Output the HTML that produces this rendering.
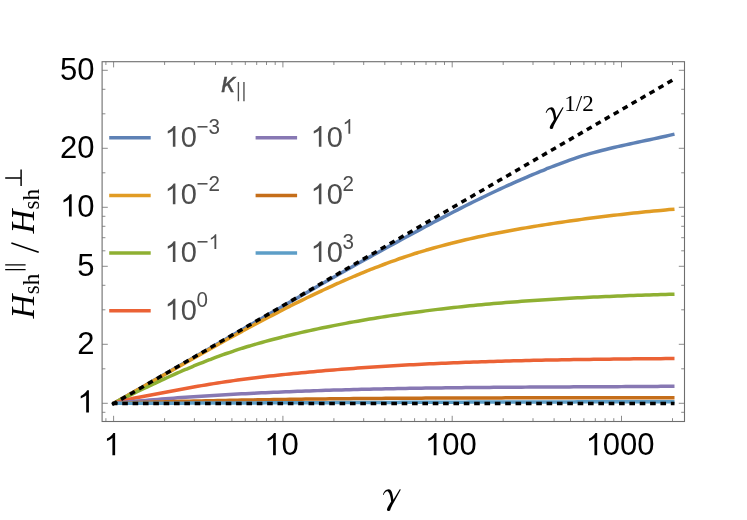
<!DOCTYPE html>
<html><head><meta charset="utf-8"><title>plot</title>
<style>
html,body{margin:0;padding:0;background:#fff;}
body{width:747px;height:520px;overflow:hidden;font-family:"Liberation Sans",sans-serif;}
svg{display:block;will-change:transform;-webkit-font-smoothing:antialiased}
text{font-family:"Liberation Sans",sans-serif}
.s{font-family:"Liberation Serif",serif}
</style></head><body>
<svg width="747" height="520" viewBox="0 0 747 520">
<defs>
<path id="one" d="M763 0H583V1147Q518 1085 412.5 1023T223 930V1104Q373 1174.5 485 1275T644 1470H763Z"/>
<path id="gam" d="M160 208C165 175 195 138 232 138C262 138 275 175 283 225L290 268L368 140L382 143L296 300C275 335 255 375 250 400C245 412 215 412 210 395C208 370 240 330 262 290C255 230 245 190 225 170C210 158 185 170 168 210Z"/>
</defs>
<rect width="747" height="520" fill="#fff"/>
<g fill="none" stroke-width="3.5" stroke-linejoin="round">
<path d="M113.6 403.30C114.9 402.55 118.9 400.29 121.6 398.78C124.3 397.27 126.9 395.76 129.6 394.25C132.3 392.74 134.9 391.22 137.6 389.70C140.3 388.18 142.9 386.67 145.6 385.15C148.3 383.63 150.9 382.10 153.6 380.58C156.3 379.06 158.9 377.53 161.6 376.00C164.3 374.47 166.9 372.95 169.6 371.42C172.3 369.89 174.9 368.35 177.6 366.82C180.3 365.29 182.9 363.75 185.6 362.22C188.3 360.69 190.9 359.16 193.6 357.62C196.3 356.08 198.9 354.55 201.6 353.01C204.3 351.47 206.9 349.94 209.6 348.40C212.3 346.86 214.9 345.33 217.6 343.79C220.3 342.25 222.9 340.71 225.6 339.17C228.3 337.63 230.9 336.10 233.6 334.56C236.3 333.02 238.9 331.48 241.6 329.94C244.3 328.40 246.9 326.87 249.6 325.33C252.3 323.79 254.9 322.25 257.6 320.72C260.3 319.19 262.9 317.65 265.6 316.12C268.3 314.59 270.9 313.05 273.6 311.52C276.3 309.99 278.9 308.46 281.6 306.93C284.3 305.40 286.9 303.87 289.6 302.34C292.3 300.81 294.9 299.28 297.6 297.76C300.3 296.24 302.9 294.72 305.6 293.20C308.3 291.68 310.9 290.16 313.6 288.64C316.3 287.12 318.9 285.60 321.6 284.09C324.3 282.58 326.9 281.07 329.6 279.56C332.3 278.05 334.9 276.54 337.6 275.04C340.3 273.54 342.9 272.04 345.6 270.54C348.3 269.04 350.9 267.54 353.6 266.05C356.3 264.56 358.9 263.07 361.6 261.58C364.3 260.09 366.9 258.60 369.6 257.12C372.3 255.64 374.9 254.16 377.6 252.69C380.3 251.22 382.9 249.74 385.6 248.27C388.3 246.80 390.9 245.34 393.6 243.88C396.3 242.42 398.9 240.96 401.6 239.51C404.3 238.06 406.9 236.60 409.6 235.16C412.3 233.72 414.9 232.27 417.6 230.84C420.3 229.41 422.9 227.98 425.6 226.56C428.3 225.14 430.9 223.72 433.6 222.31C436.3 220.90 438.9 219.50 441.6 218.10C444.3 216.70 446.9 215.32 449.6 213.94C452.3 212.56 454.9 211.20 457.6 209.84C460.3 208.48 462.9 207.12 465.6 205.78C468.3 204.44 470.9 203.11 473.6 201.79C476.3 200.47 478.9 199.16 481.6 197.86C484.3 196.56 486.9 195.27 489.6 194.00C492.3 192.73 494.9 191.47 497.6 190.22C500.3 188.97 502.9 187.73 505.6 186.51C508.3 185.29 510.9 184.07 513.6 182.88C516.3 181.69 518.9 180.51 521.6 179.35C524.3 178.19 526.9 177.03 529.6 175.90C532.3 174.77 534.9 173.64 537.6 172.54C540.3 171.44 542.9 170.35 545.6 169.28C548.3 168.21 550.9 167.15 553.6 166.11C556.3 165.07 558.9 164.05 561.6 163.05C564.3 162.06 566.9 161.08 569.6 160.14C572.3 159.20 574.9 158.30 577.6 157.43C580.3 156.56 582.9 155.73 585.6 154.93C588.3 154.13 590.9 153.38 593.6 152.64C596.3 151.90 598.9 151.20 601.6 150.51C604.3 149.82 606.9 149.17 609.6 148.52C612.3 147.88 614.9 147.25 617.6 146.64C620.3 146.03 622.9 145.43 625.6 144.84C628.3 144.25 630.9 143.68 633.6 143.11C636.3 142.54 638.9 141.97 641.6 141.40C644.3 140.83 646.9 140.26 649.6 139.69C652.3 139.12 654.9 138.55 657.6 137.96C660.3 137.38 662.8 136.82 665.6 136.18C668.4 135.54 673.0 134.45 674.5 134.10" stroke="#5E81B5"/>
<path d="M113.6 403.30C114.9 402.56 118.9 400.33 121.6 398.84C124.3 397.35 126.9 395.86 129.6 394.36C132.3 392.86 134.9 391.36 137.6 389.86C140.3 388.36 142.9 386.86 145.6 385.35C148.3 383.84 150.9 382.33 153.6 380.82C156.3 379.31 158.9 377.80 161.6 376.29C164.3 374.78 166.9 373.27 169.6 371.76C172.3 370.25 174.9 368.74 177.6 367.23C180.3 365.72 182.9 364.21 185.6 362.71C188.3 361.20 190.9 359.70 193.6 358.20C196.3 356.70 198.9 355.20 201.6 353.71C204.3 352.21 206.9 350.72 209.6 349.23C212.3 347.74 214.9 346.25 217.6 344.77C220.3 343.29 222.9 341.81 225.6 340.34C228.3 338.87 230.9 337.41 233.6 335.95C236.3 334.49 238.9 333.04 241.6 331.59C244.3 330.14 246.9 328.69 249.6 327.26C252.3 325.82 254.9 324.40 257.6 322.98C260.3 321.56 262.9 320.15 265.6 318.75C268.3 317.35 270.9 315.95 273.6 314.57C276.3 313.19 278.9 311.81 281.6 310.45C284.3 309.08 286.9 307.73 289.6 306.38C292.3 305.03 294.9 303.70 297.6 302.38C300.3 301.06 302.9 299.75 305.6 298.45C308.3 297.15 310.9 295.85 313.6 294.58C316.3 293.31 318.9 292.05 321.6 290.80C324.3 289.55 326.9 288.31 329.6 287.09C332.3 285.87 334.9 284.66 337.6 283.47C340.3 282.28 342.9 281.10 345.6 279.94C348.3 278.78 350.9 277.63 353.6 276.50C356.3 275.37 358.9 274.25 361.6 273.15C364.3 272.05 366.9 270.97 369.6 269.91C372.3 268.85 374.9 267.80 377.6 266.77C380.3 265.74 382.9 264.73 385.6 263.74C388.3 262.75 390.9 261.77 393.6 260.82C396.3 259.87 398.9 258.93 401.6 258.02C404.3 257.11 406.9 256.21 409.6 255.34C412.3 254.47 414.9 253.62 417.6 252.79C420.3 251.96 422.9 251.14 425.6 250.35C428.3 249.56 430.9 248.78 433.6 248.03C436.3 247.28 438.9 246.54 441.6 245.82C444.3 245.10 446.9 244.40 449.6 243.71C452.3 243.02 454.9 242.35 457.6 241.70C460.3 241.05 462.9 240.41 465.6 239.79C468.3 239.17 470.9 238.56 473.6 237.96C476.3 237.37 478.9 236.79 481.6 236.22C484.3 235.65 486.9 235.09 489.6 234.55C492.3 234.01 494.9 233.48 497.6 232.96C500.3 232.44 502.9 231.93 505.6 231.43C508.3 230.93 510.9 230.45 513.6 229.97C516.3 229.49 518.9 229.02 521.6 228.56C524.3 228.10 526.9 227.64 529.6 227.20C532.3 226.75 534.9 226.32 537.6 225.89C540.3 225.46 542.9 225.04 545.6 224.62C548.3 224.20 550.9 223.79 553.6 223.39C556.3 222.99 558.9 222.59 561.6 222.20C564.3 221.81 566.9 221.42 569.6 221.04C572.3 220.66 574.9 220.29 577.6 219.92C580.3 219.55 582.9 219.19 585.6 218.84C588.3 218.49 590.9 218.13 593.6 217.79C596.3 217.45 598.9 217.11 601.6 216.78C604.3 216.45 606.9 216.13 609.6 215.81C612.3 215.49 614.9 215.18 617.6 214.87C620.3 214.56 622.9 214.26 625.6 213.96C628.3 213.66 630.9 213.38 633.6 213.09C636.3 212.81 638.9 212.52 641.6 212.25C644.3 211.98 646.9 211.71 649.6 211.45C652.3 211.19 654.9 210.93 657.6 210.68C660.3 210.43 662.8 210.19 665.6 209.93C668.4 209.68 673.0 209.28 674.5 209.15" stroke="#E19C24"/>
<path d="M113.6 403.30C114.9 402.64 118.9 400.65 121.6 399.34C124.3 398.02 126.9 396.71 129.6 395.41C132.3 394.11 134.9 392.81 137.6 391.52C140.3 390.23 142.9 388.95 145.6 387.68C148.3 386.41 150.9 385.14 153.6 383.89C156.3 382.64 158.9 381.39 161.6 380.16C164.3 378.93 166.9 377.71 169.6 376.51C172.3 375.31 174.9 374.12 177.6 372.94C180.3 371.76 182.9 370.60 185.6 369.46C188.3 368.32 190.9 367.19 193.6 366.08C196.3 364.97 198.9 363.89 201.6 362.82C204.3 361.75 206.9 360.70 209.6 359.67C212.3 358.64 214.9 357.63 217.6 356.65C220.3 355.67 222.9 354.70 225.6 353.77C228.3 352.83 230.9 351.93 233.6 351.04C236.3 350.15 238.9 349.29 241.6 348.45C244.3 347.61 246.9 346.79 249.6 345.99C252.3 345.19 254.9 344.41 257.6 343.65C260.3 342.89 262.9 342.15 265.6 341.42C268.3 340.69 270.9 339.98 273.6 339.28C276.3 338.58 278.9 337.89 281.6 337.22C284.3 336.55 286.9 335.88 289.6 335.24C292.3 334.60 294.9 333.97 297.6 333.35C300.3 332.73 302.9 332.12 305.6 331.52C308.3 330.92 310.9 330.33 313.6 329.76C316.3 329.19 318.9 328.62 321.6 328.07C324.3 327.52 326.9 326.97 329.6 326.44C332.3 325.91 334.9 325.38 337.6 324.87C340.3 324.36 342.9 323.85 345.6 323.35C348.3 322.85 350.9 322.36 353.6 321.88C356.3 321.40 358.9 320.93 361.6 320.47C364.3 320.01 366.9 319.55 369.6 319.10C372.3 318.65 374.9 318.22 377.6 317.79C380.3 317.36 382.9 316.94 385.6 316.52C388.3 316.10 390.9 315.70 393.6 315.30C396.3 314.90 398.9 314.51 401.6 314.13C404.3 313.75 406.9 313.37 409.6 313.00C412.3 312.63 414.9 312.27 417.6 311.92C420.3 311.57 422.9 311.22 425.6 310.88C428.3 310.54 430.9 310.21 433.6 309.88C436.3 309.55 438.9 309.23 441.6 308.92C444.3 308.61 446.9 308.30 449.6 308.00C452.3 307.70 454.9 307.41 457.6 307.12C460.3 306.83 462.9 306.55 465.6 306.28C468.3 306.00 470.9 305.73 473.6 305.47C476.3 305.21 478.9 304.95 481.6 304.70C484.3 304.45 486.9 304.21 489.6 303.97C492.3 303.73 494.9 303.50 497.6 303.27C500.3 303.04 502.9 302.82 505.6 302.60C508.3 302.38 510.9 302.17 513.6 301.96C516.3 301.75 518.9 301.55 521.6 301.35C524.3 301.15 526.9 300.96 529.6 300.77C532.3 300.58 534.9 300.40 537.6 300.22C540.3 300.04 542.9 299.87 545.6 299.70C548.3 299.53 550.9 299.37 553.6 299.21C556.3 299.05 558.9 298.89 561.6 298.74C564.3 298.59 566.9 298.44 569.6 298.29C572.3 298.14 574.9 298.00 577.6 297.86C580.3 297.72 582.9 297.59 585.6 297.46C588.3 297.33 590.9 297.20 593.6 297.08C596.3 296.96 598.9 296.84 601.6 296.72C604.3 296.60 606.9 296.49 609.6 296.38C612.3 296.27 614.9 296.16 617.6 296.05C620.3 295.94 622.9 295.85 625.6 295.75C628.3 295.65 630.9 295.54 633.6 295.45C636.3 295.36 638.9 295.27 641.6 295.18C644.3 295.09 646.9 295.00 649.6 294.91C652.3 294.82 654.9 294.74 657.6 294.66C660.3 294.58 662.8 294.50 665.6 294.42C668.4 294.34 673.0 294.21 674.5 294.17" stroke="#8FB032"/>
<path d="M113.6 403.30C114.9 402.94 118.9 401.83 121.6 401.16C124.3 400.49 126.9 399.88 129.6 399.28C132.3 398.68 134.9 398.13 137.6 397.58C140.3 397.03 142.9 396.52 145.6 396.00C148.3 395.48 150.9 394.98 153.6 394.48C156.3 393.98 158.9 393.48 161.6 392.98C164.3 392.48 166.9 391.98 169.6 391.48C172.3 390.98 174.9 390.47 177.6 389.97C180.3 389.47 182.9 388.97 185.6 388.48C188.3 387.99 190.9 387.50 193.6 387.02C196.3 386.54 198.9 386.07 201.6 385.61C204.3 385.15 206.9 384.70 209.6 384.27C212.3 383.83 214.9 383.41 217.6 383.00C220.3 382.59 222.9 382.18 225.6 381.79C228.3 381.40 230.9 381.01 233.6 380.64C236.3 380.26 238.9 379.90 241.6 379.54C244.3 379.18 246.9 378.84 249.6 378.50C252.3 378.16 254.9 377.82 257.6 377.50C260.3 377.18 262.9 376.86 265.6 376.55C268.3 376.24 270.9 375.94 273.6 375.65C276.3 375.36 278.9 375.07 281.6 374.79C284.3 374.51 286.9 374.23 289.6 373.96C292.3 373.69 294.9 373.42 297.6 373.16C300.3 372.90 302.9 372.65 305.6 372.40C308.3 372.15 310.9 371.90 313.6 371.66C316.3 371.42 318.9 371.19 321.6 370.96C324.3 370.73 326.9 370.50 329.6 370.28C332.3 370.06 334.9 369.83 337.6 369.62C340.3 369.41 342.9 369.20 345.6 369.00C348.3 368.80 350.9 368.59 353.6 368.39C356.3 368.19 358.9 368.01 361.6 367.82C364.3 367.63 366.9 367.45 369.6 367.27C372.3 367.09 374.9 366.91 377.6 366.74C380.3 366.57 382.9 366.40 385.6 366.23C388.3 366.06 390.9 365.91 393.6 365.75C396.3 365.59 398.9 365.44 401.6 365.29C404.3 365.14 406.9 365.00 409.6 364.86C412.3 364.72 414.9 364.58 417.6 364.44C420.3 364.30 422.9 364.17 425.6 364.04C428.3 363.91 430.9 363.78 433.6 363.66C436.3 363.54 438.9 363.43 441.6 363.31C444.3 363.19 446.9 363.08 449.6 362.97C452.3 362.86 454.9 362.75 457.6 362.64C460.3 362.53 462.9 362.44 465.6 362.34C468.3 362.24 470.9 362.14 473.6 362.05C476.3 361.96 478.9 361.87 481.6 361.78C484.3 361.69 486.9 361.60 489.6 361.52C492.3 361.44 494.9 361.36 497.6 361.28C500.3 361.20 502.9 361.12 505.6 361.05C508.3 360.98 510.9 360.91 513.6 360.84C516.3 360.77 518.9 360.70 521.6 360.64C524.3 360.57 526.9 360.51 529.6 360.45C532.3 360.39 534.9 360.34 537.6 360.28C540.3 360.22 542.9 360.16 545.6 360.11C548.3 360.06 550.9 360.01 553.6 359.96C556.3 359.91 558.9 359.86 561.6 359.81C564.3 359.76 566.9 359.72 569.6 359.68C572.3 359.64 574.9 359.59 577.6 359.55C580.3 359.51 582.9 359.48 585.6 359.44C588.3 359.40 590.9 359.37 593.6 359.33C596.3 359.29 598.9 359.26 601.6 359.23C604.3 359.20 606.9 359.16 609.6 359.13C612.3 359.10 614.9 359.07 617.6 359.04C620.3 359.01 622.9 358.98 625.6 358.95C628.3 358.92 630.9 358.89 633.6 358.87C636.3 358.85 638.9 358.82 641.6 358.80C644.3 358.78 646.9 358.74 649.6 358.72C652.3 358.70 654.9 358.68 657.6 358.66C660.3 358.64 662.8 358.62 665.6 358.59C668.4 358.56 673.0 358.52 674.5 358.51" stroke="#EB6235"/>
<path d="M113.6 403.30C114.9 403.17 118.9 402.79 121.6 402.54C124.3 402.29 126.9 402.04 129.6 401.80C132.3 401.56 134.9 401.31 137.6 401.08C140.3 400.84 142.9 400.62 145.6 400.39C148.3 400.16 150.9 399.95 153.6 399.73C156.3 399.51 158.9 399.30 161.6 399.09C164.3 398.88 166.9 398.67 169.6 398.47C172.3 398.27 174.9 398.06 177.6 397.87C180.3 397.68 182.9 397.49 185.6 397.30C188.3 397.11 190.9 396.93 193.6 396.75C196.3 396.57 198.9 396.39 201.6 396.22C204.3 396.05 206.9 395.88 209.6 395.71C212.3 395.54 214.9 395.38 217.6 395.22C220.3 395.06 222.9 394.90 225.6 394.75C228.3 394.60 230.9 394.45 233.6 394.30C236.3 394.15 238.9 394.01 241.6 393.87C244.3 393.73 246.9 393.59 249.6 393.46C252.3 393.32 254.9 393.19 257.6 393.06C260.3 392.93 262.9 392.80 265.6 392.68C268.3 392.56 270.9 392.44 273.6 392.32C276.3 392.20 278.9 392.09 281.6 391.98C284.3 391.87 286.9 391.76 289.6 391.65C292.3 391.54 294.9 391.44 297.6 391.34C300.3 391.24 302.9 391.14 305.6 391.04C308.3 390.94 310.9 390.85 313.6 390.76C316.3 390.67 318.9 390.58 321.6 390.49C324.3 390.40 326.9 390.32 329.6 390.24C332.3 390.16 334.9 390.08 337.6 390.00C340.3 389.92 342.9 389.84 345.6 389.77C348.3 389.69 350.9 389.62 353.6 389.55C356.3 389.48 358.9 389.42 361.6 389.35C364.3 389.29 366.9 389.22 369.6 389.16C372.3 389.10 374.9 389.04 377.6 388.98C380.3 388.92 382.9 388.87 385.6 388.81C388.3 388.75 390.9 388.70 393.6 388.65C396.3 388.60 398.9 388.55 401.6 388.50C404.3 388.45 406.9 388.41 409.6 388.36C412.3 388.31 414.9 388.26 417.6 388.22C420.3 388.18 422.9 388.14 425.6 388.10C428.3 388.06 430.9 388.03 433.6 387.99C436.3 387.95 438.9 387.92 441.6 387.88C444.3 387.84 446.9 387.81 449.6 387.78C452.3 387.75 454.9 387.72 457.6 387.69C460.3 387.66 462.9 387.63 465.6 387.60C468.3 387.57 470.9 387.54 473.6 387.52C476.3 387.50 478.9 387.47 481.6 387.45C484.3 387.43 486.9 387.40 489.6 387.38C492.3 387.36 494.9 387.34 497.6 387.32C500.3 387.30 502.9 387.28 505.6 387.26C508.3 387.24 510.9 387.22 513.6 387.20C516.3 387.18 518.9 387.17 521.6 387.15C524.3 387.13 526.9 387.12 529.6 387.10C532.3 387.08 534.9 387.06 537.6 387.05C540.3 387.04 542.9 387.02 545.6 387.01C548.3 387.00 550.9 386.98 553.6 386.97C556.3 386.96 558.9 386.94 561.6 386.93C564.3 386.92 566.9 386.90 569.6 386.89C572.3 386.88 574.9 386.86 577.6 386.85C580.3 386.84 582.9 386.82 585.6 386.81C588.3 386.80 590.9 386.78 593.6 386.77C596.3 386.76 598.9 386.74 601.6 386.73C604.3 386.72 606.9 386.70 609.6 386.69C612.3 386.68 614.9 386.66 617.6 386.65C620.3 386.63 622.9 386.62 625.6 386.60C628.3 386.58 630.9 386.57 633.6 386.55C636.3 386.53 638.9 386.52 641.6 386.50C644.3 386.48 646.9 386.47 649.6 386.45C652.3 386.43 654.9 386.41 657.6 386.39C660.3 386.37 662.8 386.35 665.6 386.33C668.4 386.31 673.0 386.27 674.5 386.26" stroke="#8778B3"/>
<path d="M113.6 403.30C114.9 403.26 118.9 403.12 121.6 403.04C124.3 402.96 126.9 402.88 129.6 402.80C132.3 402.72 134.9 402.64 137.6 402.56C140.3 402.48 142.9 402.41 145.6 402.33C148.3 402.25 150.9 402.18 153.6 402.10C156.3 402.03 158.9 401.95 161.6 401.88C164.3 401.81 166.9 401.75 169.6 401.68C172.3 401.61 174.9 401.54 177.6 401.47C180.3 401.40 182.9 401.34 185.6 401.28C188.3 401.22 190.9 401.15 193.6 401.09C196.3 401.03 198.9 400.97 201.6 400.91C204.3 400.85 206.9 400.80 209.6 400.74C212.3 400.68 214.9 400.62 217.6 400.57C220.3 400.51 222.9 400.46 225.6 400.41C228.3 400.36 230.9 400.30 233.6 400.25C236.3 400.20 238.9 400.15 241.6 400.10C244.3 400.05 246.9 400.01 249.6 399.96C252.3 399.91 254.9 399.87 257.6 399.82C260.3 399.77 262.9 399.73 265.6 399.69C268.3 399.65 270.9 399.61 273.6 399.57C276.3 399.53 278.9 399.49 281.6 399.45C284.3 399.41 286.9 399.38 289.6 399.34C292.3 399.30 294.9 399.27 297.6 399.23C300.3 399.19 302.9 399.15 305.6 399.12C308.3 399.09 310.9 399.06 313.6 399.03C316.3 399.00 318.9 398.96 321.6 398.93C324.3 398.90 326.9 398.88 329.6 398.85C332.3 398.82 334.9 398.79 337.6 398.76C340.3 398.73 342.9 398.70 345.6 398.68C348.3 398.66 350.9 398.63 353.6 398.61C356.3 398.59 358.9 398.56 361.6 398.54C364.3 398.52 366.9 398.49 369.6 398.47C372.3 398.45 374.9 398.43 377.6 398.41C380.3 398.39 382.9 398.37 385.6 398.35C388.3 398.33 390.9 398.32 393.6 398.30C396.3 398.28 398.9 398.27 401.6 398.25C404.3 398.23 406.9 398.21 409.6 398.20C412.3 398.19 414.9 398.17 417.6 398.16C420.3 398.15 422.9 398.13 425.6 398.12C428.3 398.11 430.9 398.09 433.6 398.08C436.3 398.07 438.9 398.06 441.6 398.05C444.3 398.04 446.9 398.03 449.6 398.02C452.3 398.01 454.9 398.00 457.6 397.99C460.3 397.98 462.9 397.97 465.6 397.96C468.3 397.95 470.9 397.95 473.6 397.94C476.3 397.93 478.9 397.93 481.6 397.92C484.3 397.91 486.9 397.90 489.6 397.90C492.3 397.89 494.9 397.89 497.6 397.89C500.3 397.88 502.9 397.88 505.6 397.87C508.3 397.87 510.9 397.86 513.6 397.86C516.3 397.86 518.9 397.85 521.6 397.85C524.3 397.85 526.9 397.84 529.6 397.84C532.3 397.84 534.9 397.83 537.6 397.83C540.3 397.83 542.9 397.83 545.6 397.83C548.3 397.83 550.9 397.83 553.6 397.83C556.3 397.83 558.9 397.82 561.6 397.82C564.3 397.82 566.9 397.82 569.6 397.82C572.3 397.82 574.9 397.82 577.6 397.82C580.3 397.82 582.9 397.82 585.6 397.82C588.3 397.82 590.9 397.82 593.6 397.82C596.3 397.82 598.9 397.82 601.6 397.82C604.3 397.82 606.9 397.82 609.6 397.82C612.3 397.82 614.9 397.82 617.6 397.82C620.3 397.82 622.9 397.82 625.6 397.82C628.3 397.82 630.9 397.82 633.6 397.82C636.3 397.82 638.9 397.82 641.6 397.82C644.3 397.82 646.9 397.82 649.6 397.82C652.3 397.82 654.9 397.82 657.6 397.82C660.3 397.82 662.8 397.82 665.6 397.82C668.4 397.82 673.0 397.82 674.5 397.82" stroke="#C56E1A"/>
<path d="M113.6 403.30C114.9 403.30 118.9 403.30 121.6 403.29C124.3 403.29 126.9 403.28 129.6 403.27C132.3 403.26 134.9 403.25 137.6 403.25C140.3 403.25 142.9 403.25 145.6 403.24C148.3 403.24 150.9 403.23 153.6 403.22C156.3 403.21 158.9 403.21 161.6 403.20C164.3 403.19 166.9 403.19 169.6 403.18C172.3 403.17 174.9 403.17 177.6 403.16C180.3 403.15 182.9 403.14 185.6 403.13C188.3 403.12 190.9 403.12 193.6 403.11C196.3 403.10 198.9 403.10 201.6 403.09C204.3 403.08 206.9 403.07 209.6 403.06C212.3 403.05 214.9 403.05 217.6 403.04C220.3 403.03 222.9 403.02 225.6 403.01C228.3 403.00 230.9 402.99 233.6 402.98C236.3 402.97 238.9 402.97 241.6 402.96C244.3 402.95 246.9 402.94 249.6 402.93C252.3 402.92 254.9 402.91 257.6 402.90C260.3 402.89 262.9 402.88 265.6 402.87C268.3 402.86 270.9 402.85 273.6 402.84C276.3 402.83 278.9 402.82 281.6 402.81C284.3 402.80 286.9 402.79 289.6 402.78C292.3 402.77 294.9 402.76 297.6 402.75C300.3 402.74 302.9 402.73 305.6 402.72C308.3 402.71 310.9 402.70 313.6 402.69C316.3 402.68 318.9 402.67 321.6 402.66C324.3 402.65 326.9 402.64 329.6 402.63C332.3 402.62 334.9 402.61 337.6 402.60C340.3 402.59 342.9 402.58 345.6 402.57C348.3 402.56 350.9 402.55 353.6 402.54C356.3 402.53 358.9 402.52 361.6 402.51C364.3 402.50 366.9 402.49 369.6 402.48C372.3 402.47 374.9 402.46 377.6 402.45C380.3 402.44 382.9 402.43 385.6 402.42C388.3 402.41 390.9 402.40 393.6 402.39C396.3 402.38 398.9 402.37 401.6 402.36C404.3 402.35 406.9 402.34 409.6 402.33C412.3 402.32 414.9 402.31 417.6 402.30C420.3 402.29 422.9 402.28 425.6 402.27C428.3 402.26 430.9 402.25 433.6 402.24C436.3 402.23 438.9 402.22 441.6 402.21C444.3 402.20 446.9 402.20 449.6 402.19C452.3 402.18 454.9 402.17 457.6 402.16C460.3 402.15 462.9 402.14 465.6 402.13C468.3 402.12 470.9 402.12 473.6 402.11C476.3 402.10 478.9 402.09 481.6 402.08C484.3 402.07 486.9 402.07 489.6 402.06C492.3 402.05 494.9 402.05 497.6 402.04C500.3 402.03 502.9 402.03 505.6 402.02C508.3 402.01 510.9 402.00 513.6 401.99C516.3 401.98 518.9 401.98 521.6 401.97C524.3 401.97 526.9 401.96 529.6 401.96C532.3 401.95 534.9 401.95 537.6 401.94C540.3 401.93 542.9 401.93 545.6 401.92C548.3 401.92 550.9 401.92 553.6 401.91C556.3 401.91 558.9 401.89 561.6 401.89C564.3 401.88 566.9 401.88 569.6 401.88C572.3 401.88 574.9 401.88 577.6 401.87C580.3 401.87 582.9 401.85 585.6 401.85C588.3 401.85 590.9 401.85 593.6 401.85C596.3 401.85 598.9 401.84 601.6 401.84C604.3 401.84 606.9 401.83 609.6 401.83C612.3 401.83 614.9 401.83 617.6 401.83C620.3 401.83 622.9 401.82 625.6 401.82C628.3 401.82 630.9 401.82 633.6 401.82C636.3 401.82 638.9 401.82 641.6 401.82C644.3 401.82 646.9 401.82 649.6 401.82C652.3 401.82 654.9 401.82 657.6 401.82C660.3 401.82 662.8 401.82 665.6 401.82C668.4 401.82 673.0 401.82 674.5 401.82" stroke="#5D9EC7"/>
</g>
<g fill="none" stroke="#000" stroke-width="3.5" stroke-dasharray="5.6 4.75">
<path d="M112.10 404.57L674.5 79.02"/>
<path d="M111.9 403.40H674.5"/>
</g>
<g fill="none" stroke="#6e6e6e" stroke-width="1.1">
<rect x="102.1" y="61.7" width="582.4" height="359.8"/>
</g>
<path d="M102.1 403.3h5.7M684.5 403.3h-5.7M102.1 344.3h5.7M684.5 344.3h-5.7M102.1 266.3h5.7M684.5 266.3h-5.7M102.1 207.3h5.7M684.5 207.3h-5.7M102.1 148.3h5.7M684.5 148.3h-5.7M102.1 70.3h5.7M684.5 70.3h-5.7M102.1 412.3h3.3M684.5 412.3h-3.3M102.1 368.8h3.3M684.5 368.8h-3.3M102.1 309.8h3.3M684.5 309.8h-3.3M102.1 285.3h3.3M684.5 285.3h-3.3M102.1 250.8h3.3M684.5 250.8h-3.3M102.1 237.7h3.3M684.5 237.7h-3.3M102.1 226.3h3.3M684.5 226.3h-3.3M102.1 216.3h3.3M684.5 216.3h-3.3M102.1 172.8h3.3M684.5 172.8h-3.3M102.1 113.8h3.3M684.5 113.8h-3.3M102.1 89.3h3.3M684.5 89.3h-3.3M113.6 421.5v-5.7M113.6 61.7v5.7M282.9 421.5v-5.7M282.9 61.7v5.7M452.2 421.5v-5.7M452.2 61.7v5.7M621.5 421.5v-5.7M621.5 61.7v5.7M105.9 421.5v-3.3M105.9 61.7v3.3M164.6 421.5v-3.3M164.6 61.7v3.3M194.4 421.5v-3.3M194.4 61.7v3.3M215.5 421.5v-3.3M215.5 61.7v3.3M231.9 421.5v-3.3M231.9 61.7v3.3M245.3 421.5v-3.3M245.3 61.7v3.3M256.7 421.5v-3.3M256.7 61.7v3.3M266.5 421.5v-3.3M266.5 61.7v3.3M275.2 421.5v-3.3M275.2 61.7v3.3M333.9 421.5v-3.3M333.9 61.7v3.3M363.7 421.5v-3.3M363.7 61.7v3.3M384.8 421.5v-3.3M384.8 61.7v3.3M401.2 421.5v-3.3M401.2 61.7v3.3M414.6 421.5v-3.3M414.6 61.7v3.3M426.0 421.5v-3.3M426.0 61.7v3.3M435.8 421.5v-3.3M435.8 61.7v3.3M444.5 421.5v-3.3M444.5 61.7v3.3M503.2 421.5v-3.3M503.2 61.7v3.3M533.0 421.5v-3.3M533.0 61.7v3.3M554.1 421.5v-3.3M554.1 61.7v3.3M570.5 421.5v-3.3M570.5 61.7v3.3M583.9 421.5v-3.3M583.9 61.7v3.3M595.3 421.5v-3.3M595.3 61.7v3.3M605.1 421.5v-3.3M605.1 61.7v3.3M613.8 421.5v-3.3M613.8 61.7v3.3M672.5 421.5v-3.3M672.5 61.7v3.3" fill="none" stroke="#6e6e6e" stroke-width="0.8"/>
<use href="#one" transform="translate(77.36 412.60) scale(0.01514 -0.01514)" fill="#000"/>
<text transform="translate(77.36 353.60) scale(1 1.04)" font-size="31.0" fill="#000">2</text>
<text transform="translate(77.36 275.60) scale(1 1.04)" font-size="31.0" fill="#000">5</text>
<use href="#one" transform="translate(60.12 216.60) scale(0.01514 -0.01514)" fill="#000"/><text transform="translate(77.36 216.60) scale(1 1.04)" font-size="31.0" fill="#000">0</text>
<text transform="translate(60.12 157.60) scale(1 1.04)" font-size="31.0" fill="#000">20</text>
<text transform="translate(60.12 79.60) scale(1 1.04)" font-size="31.0" fill="#000">50</text>
<use href="#one" transform="translate(103.58 455.20) scale(0.01514 -0.01514)" fill="#000"/>
<use href="#one" transform="translate(264.26 455.20) scale(0.01514 -0.01514)" fill="#000"/><text transform="translate(281.50 455.20) scale(1 1.04)" font-size="31.0" fill="#000">0</text>
<use href="#one" transform="translate(424.94 455.20) scale(0.01514 -0.01514)" fill="#000"/><text transform="translate(442.18 455.20) scale(1 1.04)" font-size="31.0" fill="#000">00</text>
<use href="#one" transform="translate(585.62 455.20) scale(0.01514 -0.01514)" fill="#000"/><text transform="translate(602.86 455.20) scale(1 1.04)" font-size="31.0" fill="#000">000</text>
<use href="#gam" transform="translate(370 478) scale(0.08078)" fill="#000"/>
<use href="#gam" transform="translate(532.8 96.0) scale(0.08078)" fill="#000"/>
<text class="s" x="564.3" y="110.5" font-size="23" fill="#000">1/2</text>
<text class="s" transform="translate(34.2 318.5) rotate(-90)" font-size="33.2" font-style="italic" fill="#000">H</text>
<text class="s" transform="translate(39.4 294.3) rotate(-90)" font-size="23" fill="#000">sh</text>
<text class="s" transform="translate(34.2 233.6) rotate(-90)" font-size="33.2" font-style="italic" fill="#000">H</text>
<text class="s" transform="translate(39.4 209.4) rotate(-90)" font-size="23" fill="#000">sh</text>
<path d="M5.2 264.8H25.6M5.2 269.6H25.6" stroke="#000" stroke-width="1.35" fill="none"/>
<path d="M38.7 252.2L11.4 242.9" stroke="#000" stroke-width="1.55" fill="none"/>
<path d="M5.2 177.9H21.1M21.1 169.6V186.1" stroke="#000" stroke-width="1.45" fill="none"/>
<text x="221.3" y="92.3" font-size="27.6" font-style="italic" fill="#4d4d4d" stroke="#4d4d4d" stroke-width="0.35">κ</text>
<path d="M238.4 82v19.3M243.95 82v19.3" stroke="#4d4d4d" stroke-width="1.35" fill="none"/>
<path d="M109.2 137.8h41.5" stroke="#5E81B5" stroke-width="3.5" fill="none"/>
<use href="#one" transform="translate(164.60 146.70) scale(0.01416 -0.01416)" fill="#4d4d4d"/><text transform="translate(180.73 146.70) scale(1 1.04)" font-size="29" fill="#4d4d4d">0</text>
<text transform="translate(196.56 133.70) scale(1 1.04)" font-size="20.6" fill="#4d4d4d">−</text><text transform="translate(208.59 133.70) scale(1 1.04)" font-size="20.6" fill="#4d4d4d">3</text>
<path d="M109.2 195.45h41.5" stroke="#E19C24" stroke-width="3.5" fill="none"/>
<use href="#one" transform="translate(164.60 204.35) scale(0.01416 -0.01416)" fill="#4d4d4d"/><text transform="translate(180.73 204.35) scale(1 1.04)" font-size="29" fill="#4d4d4d">0</text>
<text transform="translate(196.56 191.35) scale(1 1.04)" font-size="20.6" fill="#4d4d4d">−</text><text transform="translate(208.59 191.35) scale(1 1.04)" font-size="20.6" fill="#4d4d4d">2</text>
<path d="M109.2 253.1h41.5" stroke="#8FB032" stroke-width="3.5" fill="none"/>
<use href="#one" transform="translate(164.60 262.00) scale(0.01416 -0.01416)" fill="#4d4d4d"/><text transform="translate(180.73 262.00) scale(1 1.04)" font-size="29" fill="#4d4d4d">0</text>
<text transform="translate(196.56 249.00) scale(1 1.04)" font-size="20.6" fill="#4d4d4d">−</text><use href="#one" transform="translate(208.59 249.00) scale(0.01006 -0.01006)" fill="#4d4d4d"/>
<path d="M109.2 310.75h41.5" stroke="#EB6235" stroke-width="3.5" fill="none"/>
<use href="#one" transform="translate(164.60 319.65) scale(0.01416 -0.01416)" fill="#4d4d4d"/><text transform="translate(180.73 319.65) scale(1 1.04)" font-size="29" fill="#4d4d4d">0</text>
<text transform="translate(196.56 306.65) scale(1 1.04)" font-size="20.6" fill="#4d4d4d">0</text>
<path d="M255.6 137.8h41.5" stroke="#8778B3" stroke-width="3.5" fill="none"/>
<use href="#one" transform="translate(310.60 146.70) scale(0.01416 -0.01416)" fill="#4d4d4d"/><text transform="translate(326.73 146.70) scale(1 1.04)" font-size="29" fill="#4d4d4d">0</text>
<use href="#one" transform="translate(342.56 133.70) scale(0.01006 -0.01006)" fill="#4d4d4d"/>
<path d="M255.6 195.45h41.5" stroke="#C56E1A" stroke-width="3.5" fill="none"/>
<use href="#one" transform="translate(310.60 204.35) scale(0.01416 -0.01416)" fill="#4d4d4d"/><text transform="translate(326.73 204.35) scale(1 1.04)" font-size="29" fill="#4d4d4d">0</text>
<text transform="translate(342.56 191.35) scale(1 1.04)" font-size="20.6" fill="#4d4d4d">2</text>
<path d="M255.6 253.1h41.5" stroke="#5D9EC7" stroke-width="3.5" fill="none"/>
<use href="#one" transform="translate(310.60 262.00) scale(0.01416 -0.01416)" fill="#4d4d4d"/><text transform="translate(326.73 262.00) scale(1 1.04)" font-size="29" fill="#4d4d4d">0</text>
<text transform="translate(342.56 249.00) scale(1 1.04)" font-size="20.6" fill="#4d4d4d">3</text>
</svg>
</body></html>
